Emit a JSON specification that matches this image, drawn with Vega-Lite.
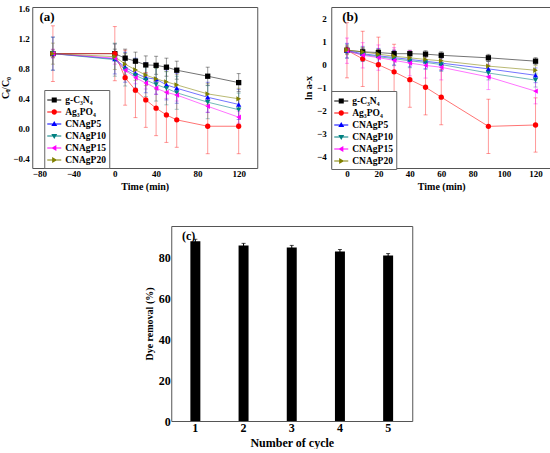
{
  "$schema": "https://vega.github.io/schema/vega-lite/v6.json",
  "padding": {"left": 0, "top": 4, "right": 0, "bottom": 0},
  "datasets": {
    "a": [
      {"t": -60, "s": "g-C₃N₄", "v": 1.0, "e": 0.05}, {"t": 0, "s": "g-C₃N₄", "v": 1.0, "e": 0.06},
      {"t": 10, "s": "g-C₃N₄", "v": 0.94, "e": 0.12}, {"t": 20, "s": "g-C₃N₄", "v": 0.9, "e": 0.12},
      {"t": 30, "s": "g-C₃N₄", "v": 0.85, "e": 0.12}, {"t": 40, "s": "g-C₃N₄", "v": 0.845, "e": 0.12},
      {"t": 50, "s": "g-C₃N₄", "v": 0.82, "e": 0.12}, {"t": 60, "s": "g-C₃N₄", "v": 0.78, "e": 0.12},
      {"t": 90, "s": "g-C₃N₄", "v": 0.7, "e": 0.12}, {"t": 120, "s": "g-C₃N₄", "v": 0.615, "e": 0.12},
      {"t": -60, "s": "Ag₃PO₄", "v": 1.0, "e": 0.37}, {"t": 0, "s": "Ag₃PO₄", "v": 1.0, "e": 0.36},
      {"t": 10, "s": "Ag₃PO₄", "v": 0.68, "e": 0.365}, {"t": 20, "s": "Ag₃PO₄", "v": 0.515, "e": 0.365},
      {"t": 30, "s": "Ag₃PO₄", "v": 0.385, "e": 0.365}, {"t": 40, "s": "Ag₃PO₄", "v": 0.275, "e": 0.365},
      {"t": 50, "s": "Ag₃PO₄", "v": 0.185, "e": 0.365}, {"t": 60, "s": "Ag₃PO₄", "v": 0.12, "e": 0.365},
      {"t": 90, "s": "Ag₃PO₄", "v": 0.035, "e": 0.365}, {"t": 120, "s": "Ag₃PO₄", "v": 0.035, "e": 0.365},
      {"t": -60, "s": "CNAgP5", "v": 1.0, "e": 0.22}, {"t": 0, "s": "CNAgP5", "v": 0.93, "e": 0.2},
      {"t": 10, "s": "CNAgP5", "v": 0.82, "e": 0.2}, {"t": 20, "s": "CNAgP5", "v": 0.74, "e": 0.2},
      {"t": 30, "s": "CNAgP5", "v": 0.68, "e": 0.2}, {"t": 40, "s": "CNAgP5", "v": 0.66, "e": 0.2},
      {"t": 50, "s": "CNAgP5", "v": 0.585, "e": 0.2}, {"t": 60, "s": "CNAgP5", "v": 0.54, "e": 0.2},
      {"t": 90, "s": "CNAgP5", "v": 0.42, "e": 0.2}, {"t": 120, "s": "CNAgP5", "v": 0.325, "e": 0.2},
      {"t": -60, "s": "CNAgP10", "v": 1.0, "e": 0.22}, {"t": 0, "s": "CNAgP10", "v": 0.92, "e": 0.22},
      {"t": 10, "s": "CNAgP10", "v": 0.79, "e": 0.22}, {"t": 20, "s": "CNAgP10", "v": 0.71, "e": 0.22},
      {"t": 30, "s": "CNAgP10", "v": 0.65, "e": 0.22}, {"t": 40, "s": "CNAgP10", "v": 0.59, "e": 0.22},
      {"t": 50, "s": "CNAgP10", "v": 0.54, "e": 0.22}, {"t": 60, "s": "CNAgP10", "v": 0.48, "e": 0.22},
      {"t": 90, "s": "CNAgP10", "v": 0.355, "e": 0.22}, {"t": 120, "s": "CNAgP10", "v": 0.255, "e": 0.22},
      {"t": -60, "s": "CNAgP15", "v": 1.0, "e": 0.06}, {"t": 0, "s": "CNAgP15", "v": 0.94, "e": 0.08},
      {"t": 10, "s": "CNAgP15", "v": 0.78, "e": 0.08}, {"t": 20, "s": "CNAgP15", "v": 0.68, "e": 0.08},
      {"t": 30, "s": "CNAgP15", "v": 0.61, "e": 0.08}, {"t": 40, "s": "CNAgP15", "v": 0.54, "e": 0.08},
      {"t": 50, "s": "CNAgP15", "v": 0.485, "e": 0.08}, {"t": 60, "s": "CNAgP15", "v": 0.45, "e": 0.08},
      {"t": 90, "s": "CNAgP15", "v": 0.3, "e": 0.08}, {"t": 120, "s": "CNAgP15", "v": 0.155, "e": 0.08},
      {"t": -60, "s": "CNAgP20", "v": 1.0, "e": 0.14}, {"t": 0, "s": "CNAgP20", "v": 0.96, "e": 0.17},
      {"t": 10, "s": "CNAgP20", "v": 0.86, "e": 0.14}, {"t": 20, "s": "CNAgP20", "v": 0.785, "e": 0.14},
      {"t": 30, "s": "CNAgP20", "v": 0.715, "e": 0.14}, {"t": 40, "s": "CNAgP20", "v": 0.665, "e": 0.14},
      {"t": 50, "s": "CNAgP20", "v": 0.625, "e": 0.14}, {"t": 60, "s": "CNAgP20", "v": 0.585, "e": 0.14},
      {"t": 90, "s": "CNAgP20", "v": 0.465, "e": 0.14}, {"t": 120, "s": "CNAgP20", "v": 0.4, "e": 0.14}
    ],
    "b": [
      {"t": 0, "s": "g-C₃N₄", "v": 0.62, "e": 0.15}, {"t": 10, "s": "g-C₃N₄", "v": 0.55, "e": 0.15},
      {"t": 20, "s": "g-C₃N₄", "v": 0.52, "e": 0.15}, {"t": 30, "s": "g-C₃N₄", "v": 0.47, "e": 0.15},
      {"t": 40, "s": "g-C₃N₄", "v": 0.47, "e": 0.15}, {"t": 50, "s": "g-C₃N₄", "v": 0.45, "e": 0.15},
      {"t": 60, "s": "g-C₃N₄", "v": 0.4, "e": 0.15}, {"t": 90, "s": "g-C₃N₄", "v": 0.29, "e": 0.15},
      {"t": 120, "s": "g-C₃N₄", "v": 0.145, "e": 0.15},
      {"t": 0, "s": "Ag₃PO₄", "v": 0.62, "e": 1.2}, {"t": 10, "s": "Ag₃PO₄", "v": 0.245, "e": 1.2},
      {"t": 20, "s": "Ag₃PO₄", "v": -0.01, "e": 1.2}, {"t": 30, "s": "Ag₃PO₄", "v": -0.32, "e": 1.2},
      {"t": 40, "s": "Ag₃PO₄", "v": -0.66, "e": 1.2}, {"t": 50, "s": "Ag₃PO₄", "v": -0.99, "e": 1.2},
      {"t": 60, "s": "Ag₃PO₄", "v": -1.42, "e": 1.2}, {"t": 90, "s": "Ag₃PO₄", "v": -2.69, "e": 1.18},
      {"t": 120, "s": "Ag₃PO₄", "v": -2.63, "e": 1.18},
      {"t": 0, "s": "CNAgP5", "v": 0.6, "e": 0.32}, {"t": 10, "s": "CNAgP5", "v": 0.47, "e": 0.32},
      {"t": 20, "s": "CNAgP5", "v": 0.38, "e": 0.32}, {"t": 30, "s": "CNAgP5", "v": 0.3, "e": 0.32},
      {"t": 40, "s": "CNAgP5", "v": 0.22, "e": 0.32}, {"t": 50, "s": "CNAgP5", "v": 0.14, "e": 0.32},
      {"t": 60, "s": "CNAgP5", "v": 0.06, "e": 0.32}, {"t": 90, "s": "CNAgP5", "v": -0.19, "e": 0.32},
      {"t": 120, "s": "CNAgP5", "v": -0.47, "e": 0.32},
      {"t": 0, "s": "CNAgP10", "v": 0.58, "e": 0.3}, {"t": 10, "s": "CNAgP10", "v": 0.43, "e": 0.3},
      {"t": 20, "s": "CNAgP10", "v": 0.34, "e": 0.3}, {"t": 30, "s": "CNAgP10", "v": 0.25, "e": 0.3},
      {"t": 40, "s": "CNAgP10", "v": 0.16, "e": 0.3}, {"t": 50, "s": "CNAgP10", "v": 0.09, "e": 0.3},
      {"t": 60, "s": "CNAgP10", "v": 0.0, "e": 0.3}, {"t": 90, "s": "CNAgP10", "v": -0.37, "e": 0.3},
      {"t": 120, "s": "CNAgP10", "v": -0.68, "e": 0.3},
      {"t": 0, "s": "CNAgP15", "v": 0.6, "e": 0.55}, {"t": 10, "s": "CNAgP15", "v": 0.4, "e": 0.55},
      {"t": 20, "s": "CNAgP15", "v": 0.3, "e": 0.55}, {"t": 30, "s": "CNAgP15", "v": 0.18, "e": 0.55},
      {"t": 40, "s": "CNAgP15", "v": 0.06, "e": 0.55}, {"t": 50, "s": "CNAgP15", "v": -0.04, "e": 0.55},
      {"t": 60, "s": "CNAgP15", "v": -0.12, "e": 0.55}, {"t": 90, "s": "CNAgP15", "v": -0.54, "e": 0.55},
      {"t": 120, "s": "CNAgP15", "v": -1.16, "e": 0.55},
      {"t": 0, "s": "CNAgP20", "v": 0.63, "e": 0.2}, {"t": 10, "s": "CNAgP20", "v": 0.55, "e": 0.2},
      {"t": 20, "s": "CNAgP20", "v": 0.45, "e": 0.2}, {"t": 30, "s": "CNAgP20", "v": 0.36, "e": 0.2},
      {"t": 40, "s": "CNAgP20", "v": 0.29, "e": 0.2}, {"t": 50, "s": "CNAgP20", "v": 0.22, "e": 0.2},
      {"t": 60, "s": "CNAgP20", "v": 0.16, "e": 0.2}, {"t": 90, "s": "CNAgP20", "v": -0.07, "e": 0.2},
      {"t": 120, "s": "CNAgP20", "v": -0.25, "e": 0.2}
    ],
    "c": [
      {"cycle": "1", "removal": 88, "e": 1},
      {"cycle": "2", "removal": 86, "e": 1},
      {"cycle": "3", "removal": 85, "e": 1},
      {"cycle": "4", "removal": 83, "e": 1},
      {"cycle": "5", "removal": 81, "e": 1}
    ]
  },
  "config": {
    "font": "Liberation Serif",
    "view": {"stroke": "#555", "strokeWidth": 1},
    "axis": {
      "grid": false, "ticks": false, "domain": false, "labelOverlap": false,
      "labelFont": "Liberation Serif", "titleFont": "Liberation Serif",
      "labelFontWeight": "bold", "titleFontWeight": "bold",
      "labelColor": "#000", "titleColor": "#000",
      "labelFontSize": 9, "titleFontSize": 10
    },
    "legend": {
      "title": null, "orient": "none", "strokeColor": "#666", "fillColor": "white",
      "padding": 3, "symbolSize": 196, "symbolStrokeWidth": 0, "rowPadding": -3.5,
      "labelFont": "Liberation Serif", "labelFontWeight": "bold", "labelFontSize": 9.5,
      "labelColor": "#000", "labelOffset": 4, "symbolOpacity": 1
    }
  },
  "center": true,
  "spacing": 33,
  "vconcat": [
    {
      "spacing": 44,
      "resolve": {"scale": {"color": "independent", "shape": "independent"}, "legend": {"color": "independent", "shape": "independent"}},
      "hconcat": [
        {
          "width": 225,
          "height": 161,
          "data": {"name": "a"},
          "layer": [
            {
              "encoding": {
                "x": {"field": "t", "type": "quantitative", "title": "Time (min)",
                      "scale": {"domain": [-80, 138], "nice": false, "zero": false},
                      "axis": {"values": [-80, -40, 0, 40, 80, 120], "labelPadding": 1, "titlePadding": 3, "labelOverlap": false}},
                "y": {"field": "v", "type": "quantitative", "title": "Cₜ/C₀",
                      "scale": {"domain": [-0.52, 1.62], "nice": false, "zero": false},
                      "axis": {"values": [-0.4, 0, 0.4, 0.8, 1.2, 1.6], "format": ".1f", "labelPadding": 3, "titlePadding": 2, "labelOverlap": false}},
                "color": {"field": "s", "type": "nominal",
                          "scale": {"domain": ["g-C₃N₄", "Ag₃PO₄", "CNAgP5", "CNAgP10", "CNAgP15", "CNAgP20"],
                                    "range": ["#000000", "#ff0000", "#0000ff", "#008080", "#ff00ff", "#808000"]},
                          "legend": {"legendX": 12, "legendY": 83,
                            "encoding": {"symbols": {
                              "opacity": {"value": 1},
                              "stroke": {"value": "transparent"},
                              "shape": {"value": {"expr": "datum.value=='g-C₃N₄'?'M-1,-0.07H1V0.07H-1ZM-0.36,-0.36H0.36V0.36H-0.36Z':datum.value=='Ag₃PO₄'?'M-1,-0.07H1V0.07H-1ZM-0.38,0A0.38,0.38 0 1,1 0.38,0A0.38,0.38 0 1,1 -0.38,0Z':datum.value=='CNAgP5'?'M-1,-0.07H1V0.07H-1ZM0,-0.42L0.42,0.3L-0.42,0.3Z':datum.value=='CNAgP10'?'M-1,-0.07H1V0.07H-1ZM-0.42,-0.3L0.42,-0.3L0,0.42Z':datum.value=='CNAgP15'?'M-1,-0.07H1V0.07H-1ZM-0.42,0L0.3,-0.42L0.3,0.42Z':'M-1,-0.07H1V0.07H-1ZM0.42,0L-0.3,0.42L-0.3,-0.42Z'"}}
                            }}}}
              },
              "layer": [
                {
                  "mark": {"type": "errorbar", "ticks": {"size": 4, "opacity": 0.4}, "rule": {"opacity": 0.4}, "thickness": 1},
                  "encoding": {"yError": {"field": "e"}}
                },
                {
                  "mark": {"type": "line", "strokeWidth": 1, "opacity": 0.55}
                },
                {
                  "mark": {"type": "point", "filled": true, "size": 28, "opacity": 1},
                  "encoding": {
                    "shape": {"field": "s", "type": "nominal", "legend": null,
                              "scale": {"range": ["circle", "triangle-down", "triangle-left", "triangle-right", "triangle-up", "square"]}}
                  }
                }
              ]
            },
            {
              "data": {"values": [{"lab": "(a)"}]},
              "mark": {"type": "text", "align": "left", "baseline": "middle", "fontSize": 13, "fontWeight": "bold", "font": "Liberation Serif", "color": "#000"},
              "encoding": {
                "x": {"datum": -73, "type": "quantitative", "title": "Time (min)",
                      "axis": {"values": [-80, -40, 0, 40, 80, 120], "labelPadding": 1, "titlePadding": 3, "labelOverlap": false}},
                "y": {"datum": 1.49, "type": "quantitative", "title": "Cₜ/C₀",
                      "axis": {"values": [-0.4, 0, 0.4, 0.8, 1.2, 1.6], "format": ".1f", "labelPadding": 3, "titlePadding": 2, "labelOverlap": false}},
                "text": {"field": "lab"}
              }
            }
          ]
        },
        {
          "width": 220,
          "height": 161,
          "data": {"name": "b"},
          "layer": [
            {
              "encoding": {
                "x": {"field": "t", "type": "quantitative", "title": "Time (min)",
                      "scale": {"domain": [-10, 130], "nice": false, "zero": false},
                      "axis": {"values": [0, 20, 40, 60, 80, 100, 120], "labelPadding": 1, "titlePadding": 3, "labelOverlap": false}},
                "y": {"field": "v", "type": "quantitative", "title": "ln a-x",
                      "scale": {"domain": [-4.5, 2.5], "nice": false, "zero": false},
                      "axis": {"values": [-4, -3, -2, -1, 0, 1, 2], "labelPadding": 5, "titlePadding": 3, "labelOverlap": false}},
                "color": {"field": "s", "type": "nominal",
                          "scale": {"domain": ["g-C₃N₄", "Ag₃PO₄", "CNAgP5", "CNAgP10", "CNAgP15", "CNAgP20"],
                                    "range": ["#000000", "#ff0000", "#0000ff", "#008080", "#ff00ff", "#808000"]},
                          "legend": {"legendX": 0, "legendY": 84,
                            "encoding": {"symbols": {
                              "opacity": {"value": 1},
                              "stroke": {"value": "transparent"},
                              "shape": {"value": {"expr": "datum.value=='g-C₃N₄'?'M-1,-0.07H1V0.07H-1ZM-0.36,-0.36H0.36V0.36H-0.36Z':datum.value=='Ag₃PO₄'?'M-1,-0.07H1V0.07H-1ZM-0.38,0A0.38,0.38 0 1,1 0.38,0A0.38,0.38 0 1,1 -0.38,0Z':datum.value=='CNAgP5'?'M-1,-0.07H1V0.07H-1ZM0,-0.42L0.42,0.3L-0.42,0.3Z':datum.value=='CNAgP10'?'M-1,-0.07H1V0.07H-1ZM-0.42,-0.3L0.42,-0.3L0,0.42Z':datum.value=='CNAgP15'?'M-1,-0.07H1V0.07H-1ZM-0.42,0L0.3,-0.42L0.3,0.42Z':'M-1,-0.07H1V0.07H-1ZM0.42,0L-0.3,0.42L-0.3,-0.42Z'"}}
                            }}}}
              },
              "layer": [
                {
                  "mark": {"type": "errorbar", "ticks": {"size": 4, "opacity": 0.4}, "rule": {"opacity": 0.4}, "thickness": 1},
                  "encoding": {"yError": {"field": "e"}}
                },
                {
                  "mark": {"type": "line", "strokeWidth": 1, "opacity": 0.55}
                },
                {
                  "mark": {"type": "point", "filled": true, "size": 28, "opacity": 1},
                  "encoding": {
                    "shape": {"field": "s", "type": "nominal", "legend": null,
                              "scale": {"range": ["circle", "triangle-down", "triangle-left", "triangle-right", "triangle-up", "square"]}}
                  }
                }
              ]
            },
            {
              "data": {"values": [{"lab": "(b)"}]},
              "mark": {"type": "text", "align": "left", "baseline": "middle", "fontSize": 13, "fontWeight": "bold", "font": "Liberation Serif", "color": "#000"},
              "encoding": {
                "x": {"datum": -3, "type": "quantitative", "title": "Time (min)",
                      "axis": {"values": [0, 20, 40, 60, 80, 100, 120], "labelPadding": 1, "titlePadding": 3, "labelOverlap": false}},
                "y": {"datum": 2.08, "type": "quantitative", "title": "ln a-x",
                      "axis": {"values": [-4, -3, -2, -1, 0, 1, 2], "labelPadding": 5, "titlePadding": 3, "labelOverlap": false}},
                "text": {"field": "lab"}
              }
            }
          ]
        }
      ]
    },
    {
      "width": 241,
      "height": 195,
      "data": {"name": "c"},
      "layer": [
        {
          "encoding": {
            "x": {"field": "cycle", "type": "nominal", "title": "Number of cycle",
                  "scale": {"paddingInner": 0.793, "paddingOuter": 0.397},
                  "axis": {"labelAngle": 0, "labelFontSize": 12, "titleFontSize": 12, "labelPadding": 1, "titlePadding": 4}},
            "y": {"field": "removal", "type": "quantitative", "title": "Dye removal (%)",
                  "scale": {"domain": [0, 95.5], "nice": false},
                  "axis": {"values": [0, 20, 40, 60, 80], "labelFontSize": 12, "titleFontSize": 10, "labelPadding": 1, "titlePadding": 4, "labelOverlap": false}}
          },
          "layer": [
            {"mark": {"type": "bar", "color": "#000"}},
            {
              "mark": {"type": "errorbar", "color": "#000", "ticks": {"size": 4}, "thickness": 1},
              "encoding": {"yError": {"field": "e"}}
            }
          ]
        },
        {
          "data": {"values": [{"lab": "(c)"}]},
          "mark": {"type": "text", "align": "right", "baseline": "middle", "fontSize": 12, "fontWeight": "bold", "font": "Liberation Serif", "color": "#000"},
          "encoding": {
            "x": {"datum": "1", "type": "nominal", "title": "Number of cycle",
                  "axis": {"labelAngle": 0, "labelFontSize": 12, "titleFontSize": 12, "labelPadding": 1, "titlePadding": 4}},
            "y": {"datum": 90.5, "type": "quantitative", "title": "Dye removal (%)",
                  "axis": {"values": [0, 20, 40, 60, 80], "labelFontSize": 12, "titleFontSize": 10, "labelPadding": 1, "titlePadding": 4, "labelOverlap": false}},
            "text": {"field": "lab"}
          }
        }
      ]
    }
  ]
}
